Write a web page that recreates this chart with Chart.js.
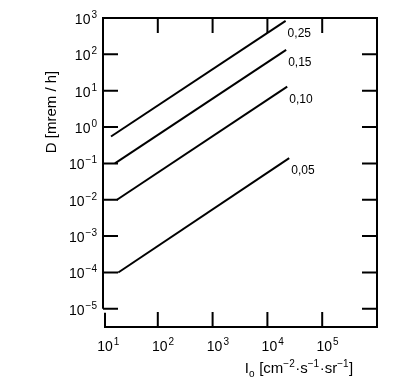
<!DOCTYPE html>
<html>
<head>
<meta charset="utf-8">
<script src="https://cdn.jsdelivr.net/npm/chart.js@4"></script>
<style>
  html, body { margin: 0; padding: 0; background: #fff; }
  #wrap { width: 418px; height: 389px; }
</style>
</head>
<body>
<div id="wrap"><canvas id="chart" width="418" height="389"></canvas></div>
<script>
// curve labels (parameter) and end points
const curveLabels = ['0,25', '0,15', '0,10', '0,05'];
const startIo = [14, 16.5, 18, 19];
const startD = [0.55, 0.1, 0.01, 0.0001];
const endIo = [21500, 22000, 23000, 25000];
const endD = [830, 133, 13, 0.14];

// axis decades
const xTickValues = [1e1, 1e2, 1e3, 1e4, 1e5];
const yTickValues = [1e-5, 1e-4, 1e-3, 1e-2, 1e-1, 1e0, 1e1, 1e2, 1e3];

// x title pieces: [text, 0 normal / 1 sup / -1 sub]
const xTitleParts = [['I', 0], ['o', -1], [' [cm', 0], ['\u22122', 1], ['\u00b7s', 0], ['\u22121', 1], ['\u00b7sr', 0], ['\u22121', 1], [']', 0]];

const FONT = "'Liberation Sans', 'DejaVu Sans', sans-serif";

function exponent(v) {
    return String(Math.round(Math.log10(v))).replace('-', '\u2212');
}

const datasets = curveLabels.map((lab, i) => ({
    label: lab,
    data: [{ x: startIo[i], y: startD[i] }, { x: endIo[i], y: endD[i] }],
    borderColor: '#000',
    borderWidth: 2,
    pointRadius: 0,
    tension: 0
}));

// draws "10" with a raised exponent, anchored at the right end (align right) or centre of "10"
function drawPow(ctx, v, px, py, alignRight) {
    const e = exponent(v);
    ctx.font = '14px ' + FONT;
    const wBase = ctx.measureText('10').width;
    ctx.font = '10px ' + FONT;
    const wExp = ctx.measureText(e).width;
    let x0 = alignRight ? px - wBase - wExp - 1 : px - wBase / 2;
    ctx.textAlign = 'left';
    ctx.textBaseline = 'alphabetic';
    ctx.font = '14px ' + FONT;
    ctx.fillText('10', x0, py + 5);
    ctx.font = '10px ' + FONT;
    ctx.fillText(e, x0 + wBase + 1, py - 1);
}

function drawParts(ctx, parts, cx, baseY) {
    const fontFor = k => (k === 0 ? '15px ' : '10px ') + FONT;
    let w = 0;
    parts.forEach(([t, k]) => { ctx.font = fontFor(k); w += ctx.measureText(t).width + (k ? 0.5 : 0); });
    let xx = cx - w / 2;
    ctx.textAlign = 'left';
    ctx.textBaseline = 'alphabetic';
    parts.forEach(([t, k]) => {
        ctx.font = fontFor(k);
        const dy = k === 1 ? -6 : (k === -1 ? 4 : 0);
        ctx.fillText(t, xx, baseY + dy);
        xx += ctx.measureText(t).width + (k ? 0.5 : 0);
    });
}

// frame with inward ticks, tick labels, curve labels and axis titles
const framePlugin = {
    id: 'frame',
    afterDraw(chart) {
        const { ctx, chartArea: a, scales: { x, y } } = chart;
        ctx.save();
        ctx.strokeStyle = '#000';
        ctx.lineWidth = 2;
        const y5 = y.getPixelForValue(1e-5);
        ctx.beginPath();
        ctx.moveTo(a.left, y5);
        ctx.lineTo(a.left, a.top);
        ctx.lineTo(a.right, a.top);
        ctx.lineTo(a.right, a.bottom);
        ctx.lineTo(a.left + 2, a.bottom);
        ctx.lineTo(a.left + 2, y5 + 4);
        ctx.stroke();

        const tl = 15;
        ctx.beginPath();
        yTickValues.forEach(v => {
            const p = y.getPixelForValue(v);
            if (p <= a.top + 1) return;
            ctx.moveTo(a.left, p); ctx.lineTo(a.left + tl, p);
            ctx.moveTo(a.right, p); ctx.lineTo(a.right - tl, p);
        });
        xTickValues.forEach(v => {
            const p = x.getPixelForValue(v);
            if (p <= a.left + 3) return;
            ctx.moveTo(p, a.top); ctx.lineTo(p, a.top + tl);
            ctx.moveTo(p, a.bottom); ctx.lineTo(p, a.bottom - tl);
        });
        ctx.stroke();

        ctx.fillStyle = '#000';
        yTickValues.forEach(v => drawPow(ctx, v, 97, y.getPixelForValue(v) + 1, true));
        xTickValues.forEach(v => drawPow(ctx, v, x.getPixelForValue(v) + 2, 346, false));

        // curve labels
        ctx.font = '12px ' + FONT;
        ctx.textAlign = 'left';
        ctx.textBaseline = 'middle';
        curveLabels.forEach((lab, i) => {
            const px = x.getPixelForValue(endIo[i]);
            const py = y.getPixelForValue(endD[i]);
            ctx.fillText(lab, px + 2, py + 13);
        });

        // axis titles
        drawParts(ctx, xTitleParts, 299, 373);
        ctx.font = '15px ' + FONT;
        ctx.textAlign = 'center';
        ctx.textBaseline = 'middle';
        ctx.translate(52, 112);
        ctx.rotate(-Math.PI / 2);
        ctx.fillText('D [mrem / h]', 0, 0);
        ctx.restore();
    }
};

new Chart(document.getElementById('chart').getContext('2d'), {
    type: 'line',
    data: { datasets },
    options: {
        responsive: false,
        animation: false,
        layout: { padding: { top: 18, right: 41, left: 0, bottom: 0 } },
        plugins: { legend: { display: false }, tooltip: { enabled: false } },
        scales: {
            x: {
                type: 'logarithmic',
                min: 10,
                max: 1e6,
                afterBuildTicks: s => { s.ticks = xTickValues.map(v => ({ value: v })); },
                afterFit: s => { s.height = 62; },
                grid: { display: false, drawTicks: false },
                border: { display: false },
                ticks: { display: false }
            },
            y: {
                type: 'logarithmic',
                min: Math.pow(10, -5.5),
                max: 1e3,
                afterBuildTicks: s => { s.ticks = yTickValues.map(v => ({ value: v })); },
                afterFit: s => { s.width = 103; },
                grid: { display: false, drawTicks: false },
                border: { display: false },
                ticks: { display: false }
            }
        }
    },
    plugins: [framePlugin]
});
</script>
</body>
</html>
